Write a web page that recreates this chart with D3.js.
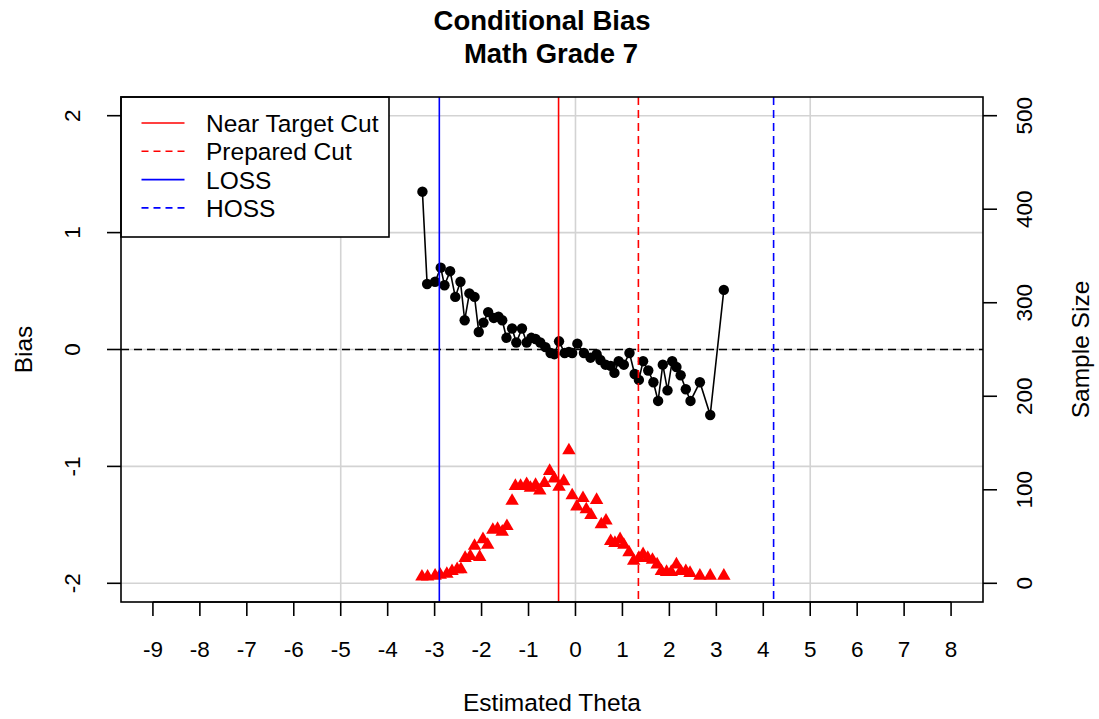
<!DOCTYPE html>
<html><head><meta charset="utf-8">
<script src="https://cdn.jsdelivr.net/npm/d3@7"></script>
<style>body{margin:0;background:#fff}svg{display:block}text{font-family:"Liberation Sans",Arial,sans-serif}</style>
</head><body>
<svg id="c" width="1099" height="719"></svg>
<script>
// ---- data ----
const biasTheta = [-3.26,-3.16,-2.99,-2.87,-2.79,-2.67,-2.56,-2.45,-2.36,-2.26,-2.15,-2.06,-1.96,-1.86,-1.74,-1.64,-1.56,-1.47,-1.35,-1.26,-1.14,-1.04,-0.94,-0.85,-0.75,-0.64,-0.53,-0.45,-0.35,-0.23,-0.14,-0.07,0.04,0.18,0.32,0.45,0.53,0.64,0.75,0.83,0.92,1.03,1.15,1.26,1.35,1.44,1.55,1.66,1.76,1.86,1.96,2.06,2.15,2.24,2.35,2.45,2.65,2.87,3.16];
const biasValues = [1.35,0.56,0.58,0.70,0.55,0.67,0.45,0.58,0.25,0.48,0.45,0.15,0.23,0.32,0.27,0.28,0.25,0.10,0.18,0.06,0.18,0.06,0.10,0.09,0.06,0.02,-0.03,-0.04,0.07,-0.03,-0.02,-0.03,0.05,-0.03,-0.07,-0.04,-0.09,-0.13,-0.14,-0.20,-0.10,-0.13,-0.03,-0.21,-0.26,-0.10,-0.18,-0.28,-0.44,-0.13,-0.35,-0.10,-0.15,-0.22,-0.34,-0.44,-0.28,-0.56,0.51];
const sizeTheta = [-3.27,-3.15,-2.99,-2.88,-2.74,-2.63,-2.52,-2.44,-2.35,-2.24,-2.15,-2.04,-1.97,-1.87,-1.76,-1.66,-1.56,-1.46,-1.35,-1.28,-1.17,-1.04,-0.96,-0.85,-0.76,-0.66,-0.55,-0.45,-0.35,-0.25,-0.14,-0.07,0.03,0.16,0.23,0.33,0.45,0.55,0.65,0.75,0.84,0.95,1.03,1.14,1.24,1.35,1.44,1.54,1.64,1.74,1.83,1.94,2.04,2.15,2.24,2.35,2.44,2.65,2.87,3.16];
const sizeValues = [7,7,8,9,10,13,15,15,27,29,40,28,47,41,57,58,55,61,88,104,104,106,102,105,99,107,120,112,103,109,142,94,82,91,79,73,89,63,67,45,43,47,41,33,24,27,31,27,25,20,13,12,12,20,13,13,11,8,8,8];
const xTicks = [-9,-8,-7,-6,-5,-4,-3,-2,-1,0,1,2,3,4,5,6,7,8];
const yTicks = [-2,-1,0,1,2];
const nTicks = [0,100,200,300,400,500];
const xGrid = [-5,0,5];
const cutNames = ["Near Target Cut","Prepared Cut","LOSS","HOSS"];
const cutValues = [-0.36,1.34,-2.9,4.22];
const cutColors = ["#FF0000","#FF0000","#0000FF","#0000FF"];
const cutDashed = [false,true,false,true];
const titleLines = ["Conditional Bias","Math Grade 7"];

// ---- layout ----
const L=121,R=983,T=97,B=602;
const svg=d3.select("#c");
const x=d3.scaleLinear().domain([-9.68,8.68]).range([L,R]);
const y=d3.scaleLinear().domain([-2.16,2.16]).range([B,T]);
const yn=d3.scaleLinear().domain([-20,520]).range([B,T]);
const DASH="8,5";
const TF=22.5, LF=24.5;

// grid
svg.append("g").selectAll("line").data(yTicks).join("line")
  .attr("x1",L).attr("x2",R).attr("y1",d=>y(d)).attr("y2",d=>y(d))
  .attr("stroke","#D3D3D3").attr("stroke-width",1.6);
svg.append("g").selectAll("line").data(xGrid).join("line")
  .attr("x1",d=>x(d)).attr("x2",d=>x(d)).attr("y1",T).attr("y2",B)
  .attr("stroke","#D3D3D3").attr("stroke-width",1.6);

// zero line
svg.append("line").attr("x1",L).attr("x2",R).attr("y1",y(0)).attr("y2",y(0))
  .attr("stroke","#000").attr("stroke-width",1.6).attr("stroke-dasharray",DASH);

// bias series
const biasData=biasTheta.map((t,i)=>[t,biasValues[i]]);
svg.append("path").datum(biasData)
  .attr("d",d3.line().x(d=>x(d[0])).y(d=>y(d[1])))
  .attr("fill","none").attr("stroke","#000").attr("stroke-width",1.6);
svg.append("g").selectAll("circle").data(biasData).join("circle")
  .attr("cx",d=>x(d[0])).attr("cy",d=>y(d[1])).attr("r",5.2).attr("fill","#000");

// sample size triangles
const sizeData=sizeTheta.map((t,i)=>[t,sizeValues[i]]);
const tri=d3.symbol().type(d3.symbolTriangle).size(78);
svg.append("g").selectAll("path").data(sizeData).join("path")
  .attr("d",tri).attr("transform",d=>`translate(${x(d[0])},${yn(d[1])})`)
  .attr("fill","#FF0000");

// cut lines
svg.append("g").selectAll("line").data(cutValues).join("line")
  .attr("x1",d=>x(d)).attr("x2",d=>x(d)).attr("y1",T).attr("y2",B)
  .attr("stroke",(d,i)=>cutColors[i]).attr("stroke-width",1.6)
  .attr("stroke-dasharray",(d,i)=>cutDashed[i]?DASH:null);

// legend
const lg=svg.append("g");
lg.append("rect").attr("x",L).attr("y",T).attr("width",268).attr("height",140)
  .attr("fill","#fff").attr("stroke","#000").attr("stroke-width",1.6);
cutNames.forEach((n,i)=>{
  const cy=T+26+i*28.3;
  lg.append("line").attr("x1",141.5).attr("x2",184.5).attr("y1",cy).attr("y2",cy)
    .attr("stroke",cutColors[i]).attr("stroke-width",1.6).attr("stroke-dasharray",cutDashed[i]?"7,5":null);
  lg.append("text").attr("x",206).attr("y",cy+9).attr("font-size",LF).text(n);
});

// box
svg.append("rect").attr("x",L).attr("y",T).attr("width",R-L).attr("height",B-T)
  .attr("fill","none").attr("stroke","#000").attr("stroke-width",1.6);

// x axis
const gx=svg.append("g");
gx.append("line").attr("x1",x(-9)).attr("x2",x(8)).attr("y1",B).attr("y2",B).attr("stroke","#000").attr("stroke-width",1.6);
gx.selectAll("line.t").data(xTicks).join("line").attr("class","t")
  .attr("x1",d=>x(d)).attr("x2",d=>x(d)).attr("y1",B).attr("y2",B+14)
  .attr("stroke","#000").attr("stroke-width",1.6);
gx.selectAll("text").data(xTicks).join("text")
  .attr("x",d=>x(d)).attr("y",657).attr("text-anchor","middle").attr("font-size",TF).text(d=>d);

// left axis
const gy=svg.append("g");
gy.selectAll("line").data(yTicks).join("line")
  .attr("x1",L-14).attr("x2",L).attr("y1",d=>y(d)).attr("y2",d=>y(d))
  .attr("stroke","#000").attr("stroke-width",1.6);
gy.selectAll("text").data(yTicks).join("text")
  .attr("transform",d=>`translate(80,${y(d)}) rotate(-90)`)
  .attr("text-anchor","middle").attr("font-size",TF).text(d=>d);

// right axis
const gr=svg.append("g");
gr.selectAll("line").data(nTicks).join("line")
  .attr("x1",R).attr("x2",R+14).attr("y1",d=>yn(d)).attr("y2",d=>yn(d))
  .attr("stroke","#000").attr("stroke-width",1.6);
gr.selectAll("text").data(nTicks).join("text")
  .attr("transform",d=>`translate(1032,${yn(d)}) rotate(-90)`)
  .attr("text-anchor","middle").attr("font-size",TF).text(d=>d);

// labels
svg.append("text").attr("x",552).attr("y",711).attr("text-anchor","middle").attr("font-size",LF).text("Estimated Theta");
svg.append("text").attr("transform",`translate(32,${(T+B)/2}) rotate(-90)`).attr("text-anchor","middle").attr("font-size",LF).text("Bias");
svg.append("text").attr("transform",`translate(1089,${(T+B)/2}) rotate(-90)`).attr("text-anchor","middle").attr("font-size",LF).text("Sample Size");

// title
svg.append("text").attr("x",542).attr("y",30).attr("text-anchor","middle").attr("font-size",27.5).attr("font-weight","bold").text(titleLines[0]);
svg.append("text").attr("x",551).attr("y",63).attr("text-anchor","middle").attr("font-size",27.5).attr("font-weight","bold").text(titleLines[1]);
</script>
</body></html>
